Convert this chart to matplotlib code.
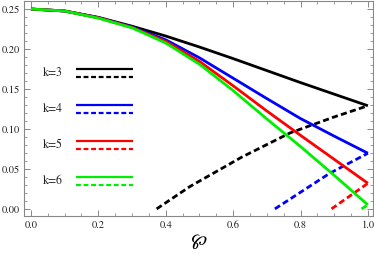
import matplotlib
matplotlib.use("Agg")
from matplotlib import pyplot as plt
from matplotlib.ticker import MultipleLocator

# values
phi = [0.0, 0.1, 0.2, 0.3, 0.4, 0.5, 0.6, 0.7, 0.8, 0.9, 1.0]
solid_k3 = [0.25, 0.2476, 0.2396, 0.2285, 0.2162, 0.2025, 0.1880, 0.1730, 0.1580, 0.1435, 0.1290]
solid_k4 = [0.25, 0.2475, 0.2392, 0.2275, 0.2115, 0.1890, 0.1635, 0.1380, 0.1130, 0.0910, 0.0696]
solid_k5 = [0.25, 0.2475, 0.2390, 0.2270, 0.2095, 0.1845, 0.1540, 0.1225, 0.0920, 0.0620, 0.0320]
solid_k6 = [0.25, 0.2475, 0.2386, 0.2265, 0.2075, 0.1810, 0.1480, 0.1125, 0.0780, 0.0420, 0.0050]

dash_k3_x = [0.373, 0.472, 0.625, 0.769, 0.9, 1.0]
dash_k3_y = [0.0, 0.028, 0.0646, 0.095, 0.115, 0.129]
dash_k4_x = [0.724, 0.887, 1.0]
dash_k4_y = [0.0, 0.0446, 0.0696]
dash_k5_x = [0.892, 1.0]
dash_k5_y = [0.0, 0.032]
dash_k6_x = [0.981, 1.0]
dash_k6_y = [0.0, 0.005]

labels = ["k=3", "k=4", "k=5", "k=6"]
colors = ["black", "#0000ff", "#ff0000", "#00ee00"]

plt.rcParams['font.family'] = 'STIXGeneral'
plt.rcParams['mathtext.fontset'] = 'stix'
plt.rcParams['figure.dpi'] = 100

fig = plt.figure(figsize=(3.74, 2.57))
ax = fig.add_axes([0.064, 0.16, 0.933, 0.836])

solids = [solid_k3, solid_k4, solid_k5, solid_k6]
dashes = [(dash_k3_x, dash_k3_y), (dash_k4_x, dash_k4_y),
          (dash_k5_x, dash_k5_y), (dash_k6_x, dash_k6_y)]
lw = 2.0
dash_pat = (2.2, 1.2)

for sol, (dx, dy), c in zip(solids, dashes, colors):
    ax.plot(phi, sol, color=c, lw=lw, solid_capstyle='butt')
    ax.plot(dx, dy, color=c, lw=lw, dashes=dash_pat)

# hand-made legend: label, solid sample, dashed sample
for i, (lab, c) in enumerate(zip(labels, colors)):
    y0 = 0.175 - 0.045 * i
    ax.plot([0.134, 0.302], [y0, y0], color=c, lw=lw * 0.8, solid_capstyle='butt')
    ax.plot([0.134, 0.302], [y0 - 0.01, y0 - 0.01], color=c, lw=lw * 0.8, dashes=dash_pat)
    ax.text(0.036, y0 - 0.005, lab, fontsize=8.5, va='center', ha='left', color='#222222')

ax.set_xlim(-0.0208, 1.0148)
ax.set_ylim(-0.00875, 0.26)
ax.xaxis.set_major_locator(MultipleLocator(0.2))
ax.xaxis.set_minor_locator(MultipleLocator(0.05))
ax.yaxis.set_major_locator(MultipleLocator(0.05))
ax.yaxis.set_minor_locator(MultipleLocator(0.01))
ax.xaxis.set_major_formatter(plt.FuncFormatter(lambda v, p: "%.1f" % v))
ax.yaxis.set_major_formatter(plt.FuncFormatter(lambda v, p: "%.2f" % v))
ax.tick_params(which='both', direction='in', top=True, right=True,
               color='#888888', labelsize=7.5, labelcolor='#222222')
ax.tick_params(which='major', length=4, width=0.7, pad=3)
ax.tick_params(which='minor', length=2, width=0.6)
for s in ax.spines.values():
    s.set_color('#888888')
    s.set_linewidth(0.8)

ax.set_xlabel(r"$\wp$", fontsize=14, labelpad=2)

fig.savefig("out.png", dpi=100)
